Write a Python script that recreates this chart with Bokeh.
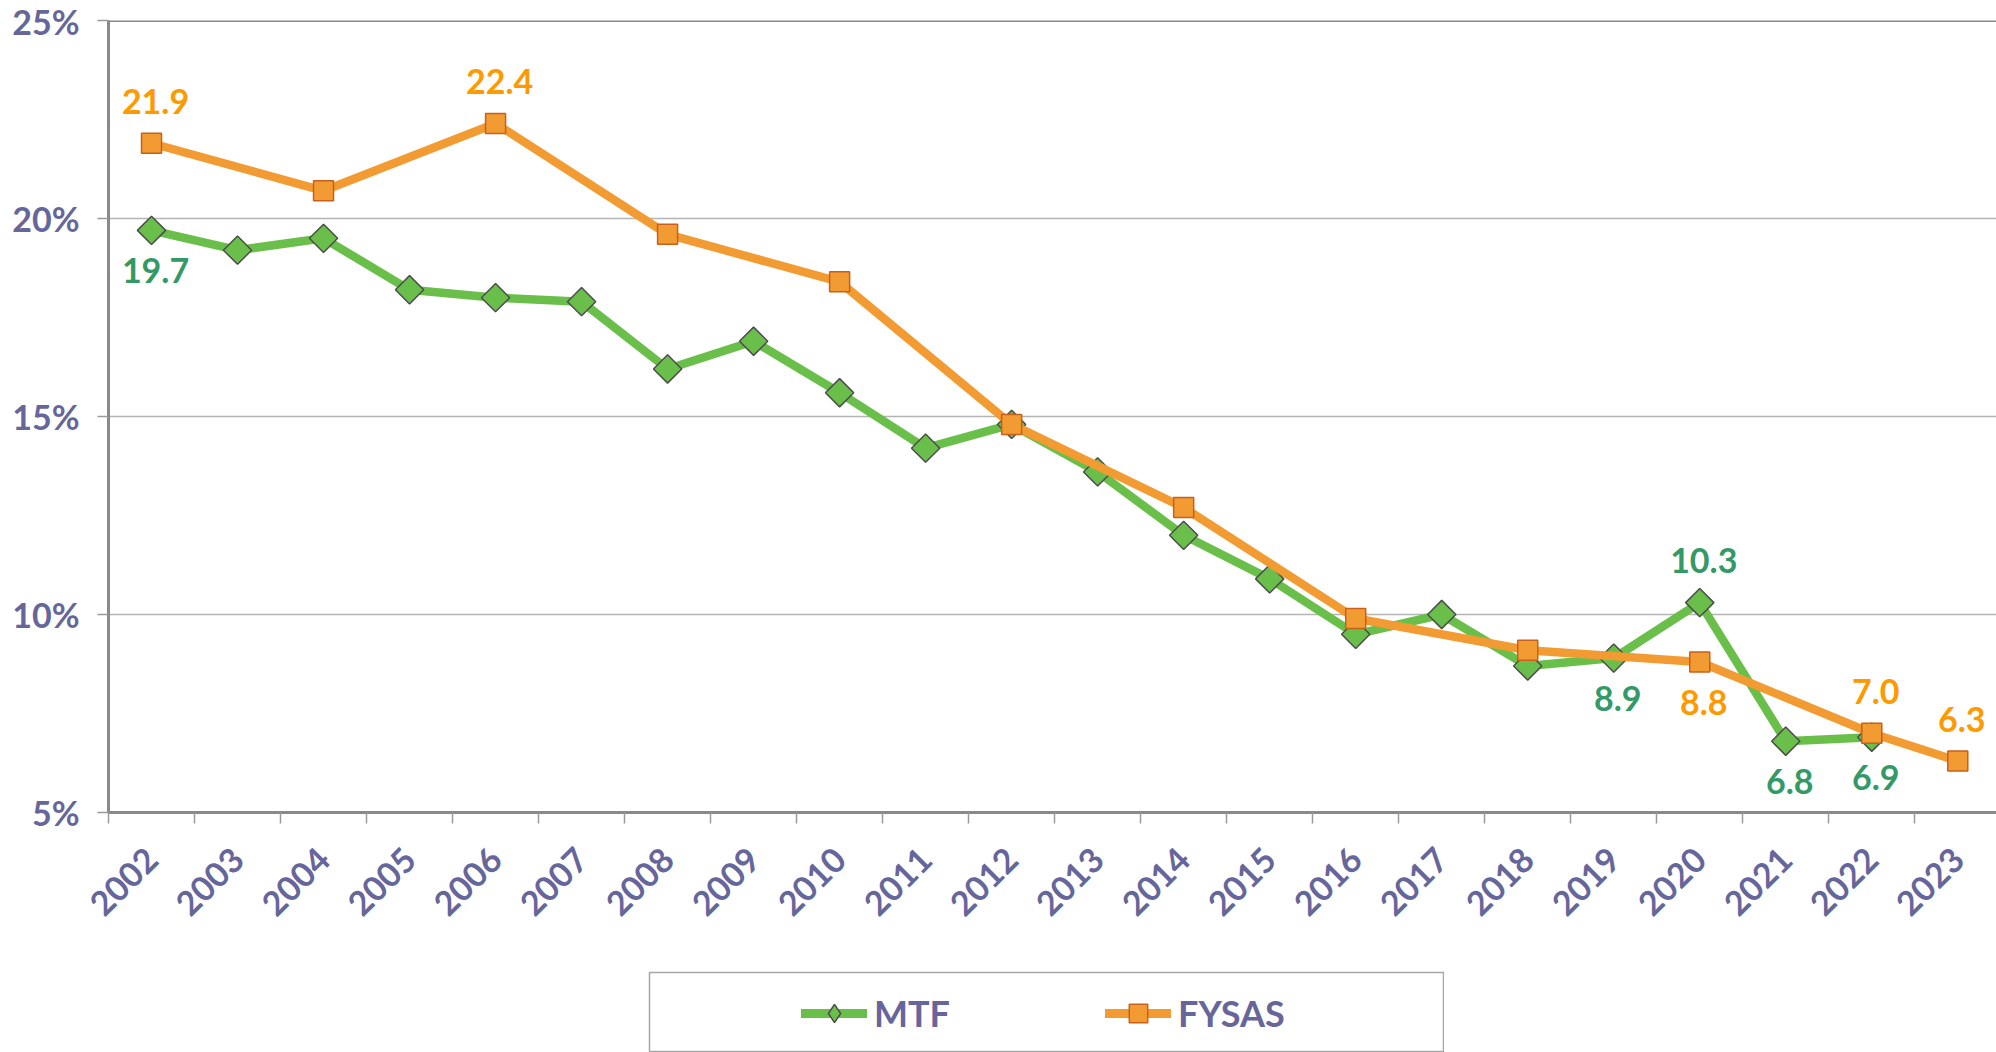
import numpy as np
from bokeh.plotting import figure
from bokeh.models import Range1d, FixedTicker, Span, Legend, LegendItem, Spacer
from bokeh.layouts import column, row
from bokeh.core.properties import value
from bokeh.embed import file_html
from bokeh.resources import INLINE

# ---------------- data ----------------
years = list(range(2002, 2024))
year_labels = [str(y) for y in years]

mtf_years = list(range(2002, 2023))
mtf_values = [19.7, 19.2, 19.5, 18.2, 18.0, 17.9, 16.2, 16.9, 15.6, 14.2, 14.8,
              13.6, 12.0, 10.9, 9.5, 10.0, 8.7, 8.9, 10.3, 6.8, 6.9]

fysas_years = [2002, 2004, 2006, 2008, 2010, 2012, 2014, 2016, 2018, 2020, 2022, 2023]
fysas_values = [21.9, 20.7, 22.4, 19.6, 18.4, 14.8, 12.7, 9.9, 9.1, 8.8, 7.0, 6.3]

y_ticks = [5, 10, 15, 20, 25]
y_tick_labels = ["5%", "10%", "15%", "20%", "25%"]

mtf_label_years = [2002, 2019, 2020, 2021, 2022]
mtf_label_side = [-1, -1, 1, -1, -1]      # -1 below, +1 above
fysas_label_years = [2002, 2006, 2020, 2022, 2023]
fysas_label_side = [1, 1, -1, 1, 1]

series_names = ["MTF", "FYSAS"]

# ---------------- style ----------------
FONT = "Lato"
PURPLE = "#66669A"
GREEN = "#6ABF4B"
ORANGE = "#F39B33"
GREEN_TXT = "#339966"
ORANGE_TXT = "#FF9900"
AXIS_GRAY = "#898989"
LW = 8.5

p = figure(width=1996, height=971, output_backend="svg", toolbar_location=None,
           x_range=Range1d(2001.5, 2023.45), y_range=Range1d(5, 25),
           min_border_left=108, min_border_right=0, min_border_top=20,
           min_border_bottom=159)
p.outline_line_color = None
p.background_fill_color = "white"
p.border_fill_color = "white"

# y axis
ya = p.yaxis[0]
ya.ticker = FixedTicker(ticks=y_ticks)
ya.major_label_overrides = {t: l for t, l in zip(y_ticks, y_tick_labels)}
ya.major_label_text_font = FONT
ya.major_label_text_font_style = "bold"
ya.major_label_text_font_size = "34px"
ya.major_label_text_color = PURPLE
ya.major_label_standoff = 18
ya.major_tick_out = 11
ya.major_tick_in = 0
ya.major_tick_line_color = "#9a9a9a"
ya.major_tick_line_width = 1.5
ya.minor_tick_line_color = None
ya.axis_line_color = AXIS_GRAY
ya.axis_line_width = 3

# x axis
xa = p.xaxis[0]
xa.ticker = FixedTicker(ticks=years, minor_ticks=[y - 0.5 for y in years] + [2023.5])
xa.major_label_overrides = {y: l for y, l in zip(years, year_labels)}
xa.major_label_orientation = np.pi / 4
xa.major_label_text_font = FONT
xa.major_label_text_font_style = "bold"
xa.major_label_text_font_size = "34px"
xa.major_label_text_color = PURPLE
xa.major_label_standoff = 30
xa.major_tick_line_color = None
xa.major_tick_out = 0
xa.major_tick_in = 0
xa.minor_tick_out = 11
xa.minor_tick_in = 0
xa.minor_tick_line_color = "#9a9a9a"
xa.minor_tick_line_width = 1.5
xa.axis_line_color = AXIS_GRAY
xa.axis_line_width = 3

p.xgrid.visible = False
p.ygrid.ticker = FixedTicker(ticks=y_ticks)
p.ygrid.grid_line_color = "#b4b4b4"
p.ygrid.grid_line_width = 1.5

p.add_layout(Span(location=25, dimension="width", line_color=AXIS_GRAY, line_width=3))

# series
p.line(mtf_years, mtf_values, line_color=GREEN, line_width=LW,
       line_join="round", line_cap="round")
p.scatter(mtf_years, mtf_values, marker="square", angle=np.pi / 4, size=20,
          fill_color=GREEN, line_color="#4d4d4d", line_width=1.5)
p.line(fysas_years, fysas_values, line_color=ORANGE, line_width=LW,
       line_join="round", line_cap="round")
p.scatter(fysas_years, fysas_values, marker="square", size=20,
          fill_color=ORANGE, line_color="#C8601A", line_width=1.5)

# data labels
def add_labels(lab_years, sides, xs, vals, color):
    for yr, s in zip(lab_years, sides):
        v = vals[xs.index(yr)]
        p.text([yr], [v], text=[f"{v:.1f}"], x_offset=4,
               y_offset=(-42 if s > 0 else 40),
               text_align="center", text_baseline="middle",
               text_font=value(FONT), text_font_style="bold",
               text_font_size="34px", text_color=color)

add_labels(mtf_label_years, mtf_label_side, mtf_years, mtf_values, GREEN_TXT)
add_labels(fysas_label_years, fysas_label_side, fysas_years, fysas_values, ORANGE_TXT)

# legend panel (box under the chart); its renderers carry the series data
# but their ranges keep the marks out of view, only legend swatches show
q = figure(width=796, height=81, output_backend="svg", toolbar_location=None,
           x_axis_type=None, y_axis_type=None,
           x_range=Range1d(0, 1), y_range=Range1d(0, 1),
           min_border_left=1, min_border_right=1, min_border_top=1, min_border_bottom=0)
q.grid.visible = False
q.outline_line_color = "#a6a6a6"
q.outline_line_width = 1.5
q.background_fill_color = "white"
q.border_fill_color = "white"
l1 = q.line(mtf_years, mtf_values, line_color=GREEN, line_width=9, line_cap="round")
m1 = q.scatter(mtf_years, mtf_values, marker="diamond", size=18, fill_color=GREEN,
               line_color="#4d4d4d", line_width=1.5)
l2 = q.line(fysas_years, fysas_values, line_color=ORANGE, line_width=9, line_cap="round")
m2 = q.scatter(fysas_years, fysas_values, marker="square", size=18, fill_color=ORANGE,
               line_color="#C8601A", line_width=1.5)
legend = Legend(items=[LegendItem(label=series_names[0], renderers=[l1, m1]),
                       LegendItem(label=series_names[1], renderers=[l2, m2])],
                orientation="horizontal", location=(152, 16),
                padding=0, margin=0, spacing=6, label_width=225, label_height=46,
                label_standoff=7, glyph_width=66, glyph_height=46,
                label_text_font=FONT, label_text_font_style="bold",
                label_text_font_size="36px", label_text_color=PURPLE,
                border_line_color=None, background_fill_alpha=0.0)
q.add_layout(legend)

layout = column(p, row(Spacer(width=648, height=81), q))
open("out.html", "w").write(file_html(layout, INLINE))
